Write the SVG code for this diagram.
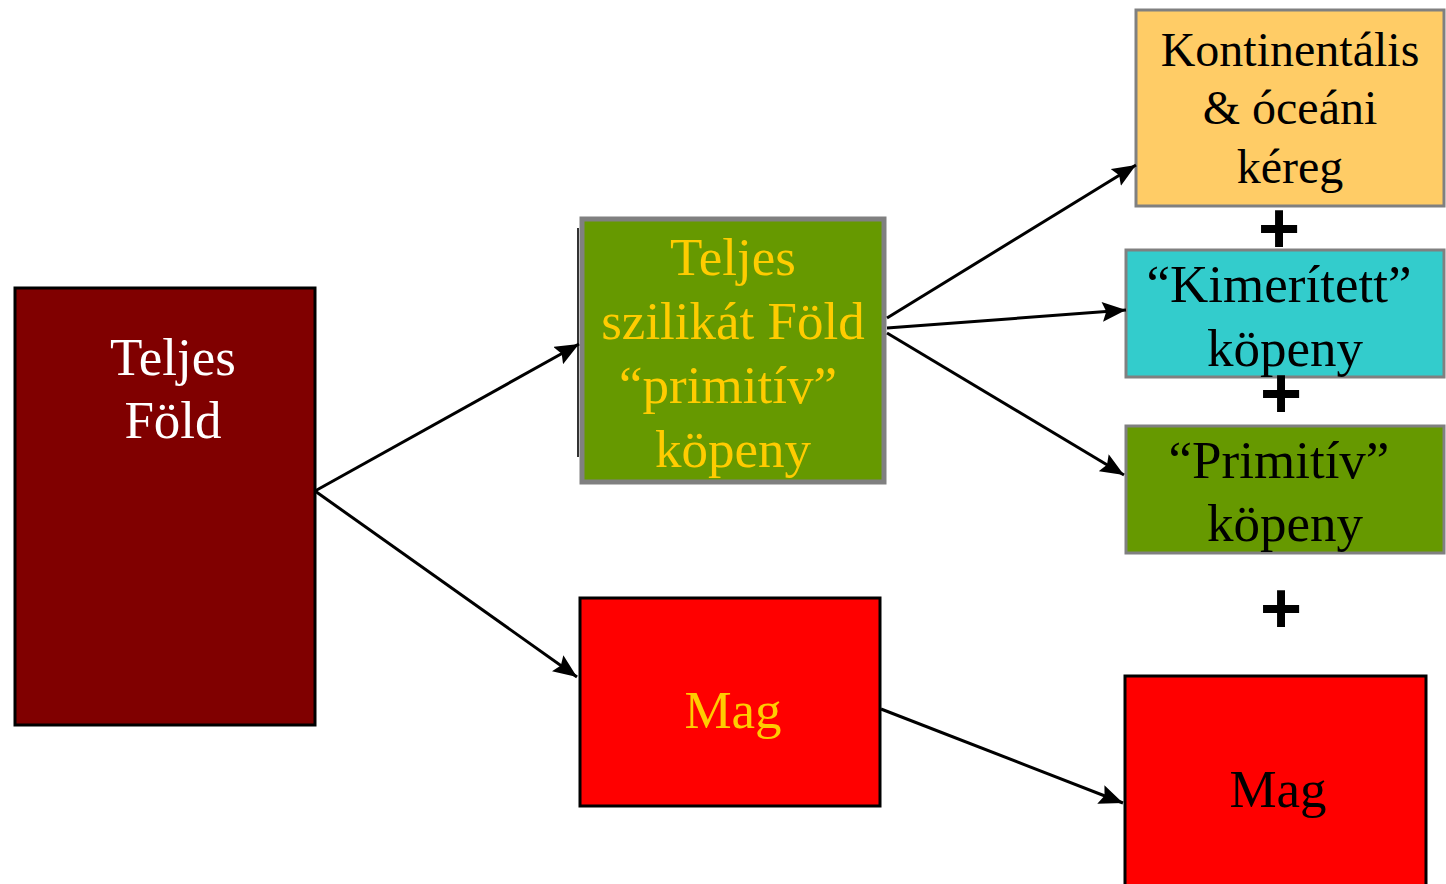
<svg xmlns="http://www.w3.org/2000/svg" width="1446" height="884" viewBox="0 0 1446 884">
<style>
.t{font-family:"Liberation Serif","Times New Roman",serif;font-size:53px;text-anchor:middle}
.s{font-size:48px}
.w{fill:#ffffff}.y{fill:#ffcc00}.k{fill:#000000}
.conn{stroke:#000;stroke-width:3;fill:none;marker-end:url(#ah)}
.plus{font-family:"Liberation Sans",Arial,sans-serif;font-weight:bold;font-size:72px;text-anchor:middle;fill:#000}
</style>
<defs>
<marker id="ah" viewBox="0 0 12 10" refX="12" refY="5" markerWidth="8" markerHeight="6.6" markerUnits="strokeWidth" orient="auto">
<path d="M0,0 L12,5 L0,10 L2,5 z" fill="#000"/>
</marker>
</defs>
<rect width="1446" height="884" fill="#fff"/>
<g id="teljes-fold">
<rect x="15" y="288" width="300" height="437" fill="#800000" stroke="#000" stroke-width="3"/>
<text class="t w" x="173" y="375">Teljes</text>
<text class="t w" x="173" y="438">Föld</text>
</g>
<g id="szilikat">
<line x1="578" y1="228" x2="578" y2="457" stroke="#333" stroke-width="2"/>
<rect x="582" y="219" width="302" height="263" fill="#669900" stroke="#808080" stroke-width="5"/>
<text class="t y" x="733" y="275">Teljes</text>
<text class="t y" x="733" y="339">szilikát Föld</text>
<text class="t y" x="728" y="403">“primitív”</text>
<text class="t y" x="733" y="467">köpeny</text>
</g>
<g id="mag1">
<rect x="580" y="598" width="300" height="208" fill="#ff0000" stroke="#000" stroke-width="3"/>
<text class="t y" x="733" y="728">Mag</text>
</g>
<g id="kereg">
<rect x="1136" y="10" width="308" height="196" fill="#ffcc66" stroke="#808080" stroke-width="3"/>
<text class="t s k" x="1290" y="66">Kontinentális</text>
<text class="t s k" x="1290" y="124">&amp; óceáni</text>
<text class="t s k" x="1290" y="183">kéreg</text>
</g>
<g id="kimeritett">
<rect x="1126" y="250" width="318" height="127" fill="#33cccc" stroke="#808080" stroke-width="3"/>
<text class="t k" x="1279" y="302">“Kimerített”</text>
<text class="t k" x="1285" y="366">köpeny</text>
</g>
<g id="primitiv">
<rect x="1126" y="426" width="318" height="127" fill="#669900" stroke="#808080" stroke-width="3"/>
<text class="t k" x="1279" y="478">“Primitív”</text>
<text class="t k" x="1285" y="541">köpeny</text>
</g>
<g id="mag2">
<rect x="1125" y="676" width="301" height="220" fill="#ff0000" stroke="#000" stroke-width="3"/>
<text class="t k" x="1278" y="807">Mag</text>
</g>
<g id="plus-signs">
<text class="plus" x="1279" y="253">+</text>
<text class="plus" x="1281" y="418">+</text>
<text class="plus" x="1281" y="633">+</text>
</g>
<g id="connectors">
<line class="conn" x1="315" y1="491" x2="579" y2="344"/>
<line class="conn" x1="315" y1="491" x2="577" y2="677"/>
<line class="conn" x1="887" y1="318" x2="1136" y2="165"/>
<line class="conn" x1="887" y1="328" x2="1126" y2="310"/>
<line class="conn" x1="887" y1="333" x2="1124" y2="475"/>
<line class="conn" x1="881" y1="709" x2="1123" y2="803"/>
</g>
</svg>
